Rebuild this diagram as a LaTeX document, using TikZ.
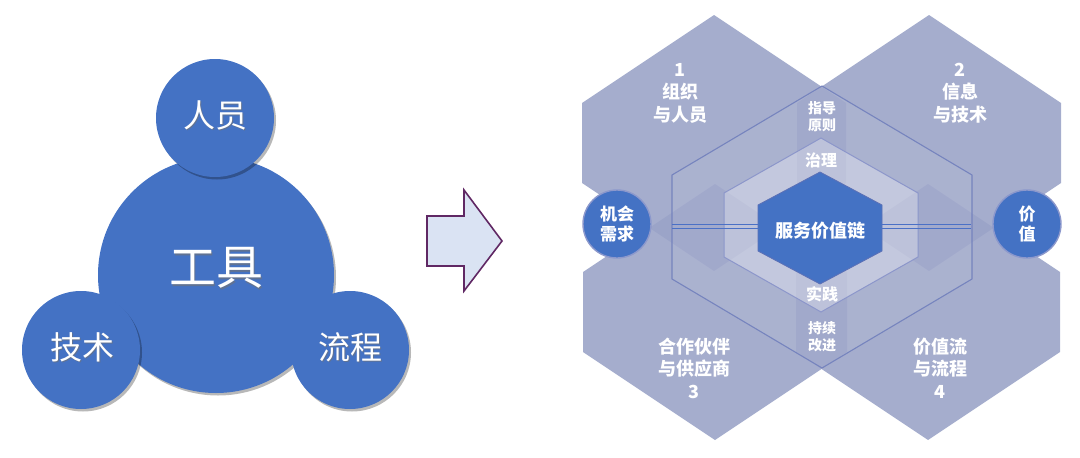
\documentclass[tikz,border=0pt]{standalone}
\usepackage{fontspec}
\setmainfont{Noto Sans CJK SC}
\usetikzlibrary{shadows}
\definecolor{mainblue}{RGB}{68,114,196}
\definecolor{hexfill}{RGB}{154,163,199}
\definecolor{midline}{RGB}{118,132,190}
\definecolor{innerline}{RGB}{140,150,202}
\definecolor{coreline}{RGB}{92,112,182}
\definecolor{ringline}{RGB}{140,152,204}
\definecolor{chainblue}{RGB}{74,112,198}
\definecolor{arrowfill}{RGB}{218,227,243}
\definecolor{arrowline}{RGB}{96,40,100}
\newcommand{\hexp}[5]{(#1,#2-#4-#5) -- (#1+#3,#2-#4) -- (#1+#3,#2+#4) -- (#1,#2+#4+#5) -- (#1-#3,#2+#4) -- (#1-#3,#2-#4) -- cycle}
\begin{document}
\begin{tikzpicture}[x=1pt,y=-1pt,
  leftcirc/.style={circle, fill=mainblue, inner sep=0pt,
    drop shadow={shadow xshift=2pt, shadow yshift=-2.5pt, fill=black, opacity=0.28}},
  lefttxt/.style={text=white, inner sep=0pt},
  leftshadow/.style={text=black!55, opacity=0.6, inner sep=0pt},
  bigarrow/.style={fill=arrowfill, draw=arrowline, line width=1.6pt, line join=miter},
  bighex/.style={fill=hexfill, fill opacity=0.89},
  midhex/.style={fill=white, fill opacity=0.06, draw=midline, line width=1.1pt},
  innerhex/.style={fill=white, fill opacity=0.3, draw=innerline, line width=1pt},
  corehex/.style={fill=mainblue, draw=coreline, line width=0.8pt},
  chain/.style={draw=chainblue, line width=0.9pt},
  ringcirc/.style={circle, fill=mainblue, draw=ringline, line width=1.4pt, inner sep=0pt, minimum size=68pt,
    text=white, align=center, font=\fontsize{17}{20.5}\selectfont\bfseries},
  hextxt/.style={text=white, align=center, inner sep=0pt, font=\fontsize{18}{22.5}\selectfont\bfseries},
  smalltxt/.style={text=white, align=center, inner sep=0pt, font=\fontsize{14}{17}\selectfont\bfseries},
  midtxt/.style={text=white, align=center, inner sep=0pt, font=\fontsize{16}{19}\selectfont\bfseries}
]
\useasboundingbox (0,0) rectangle (1080,458);

% ---------- left: circles ----------
\node[leftcirc, minimum size=236pt] (tools) at (216,275) {};
\node[leftcirc, minimum size=118pt] (people) at (215,118) {};
\node[leftcirc, minimum size=118pt] (tech) at (81,350) {};
\node[leftcirc, minimum size=118pt] (process) at (350,350) {};

\node[leftshadow, font=\fontsize{47}{47}\selectfont] (toolsS) at (217.3,269.3) {工具};
\node[lefttxt, font=\fontsize{47}{47}\selectfont] (toolsT) at (216,268) {工具};
\node[leftshadow, font=\fontsize{32}{32}\selectfont] (peopleS) at (216.1,116.1) {人员};
\node[lefttxt, font=\fontsize{32}{32}\selectfont] (peopleT) at (215,115) {人员};
\node[leftshadow, font=\fontsize{32}{32}\selectfont] (techS) at (83.1,348.1) {技术};
\node[lefttxt, font=\fontsize{32}{32}\selectfont] (techT) at (82,347) {技术};
\node[leftshadow, font=\fontsize{32}{32}\selectfont] (procS) at (351.1,348.1) {流程};
\node[lefttxt, font=\fontsize{32}{32}\selectfont] (procT) at (350,347) {流程};

% ---------- arrow ----------
\draw[bigarrow] (427,216) -- (464,216) -- (464,190) -- (502,241) -- (464,291) -- (464,266) -- (427,266) -- cycle;

% ---------- right: hexagons ----------
\fill[bighex] \hexp{714}{143}{132}{40}{88};
\fill[bighex] \hexp{929}{143}{132}{40}{88};
\fill[bighex] \hexp{715}{312}{132}{40}{88};
\fill[bighex] \hexp{928}{312}{132}{40}{88};

\filldraw[midhex] \hexp{822}{227}{150}{52}{89};
\filldraw[innerhex] \hexp{821}{225}{97}{32}{55};
\filldraw[corehex] \hexp{820}{228}{62}{23}{33};

% connector lines
\coordinate (midL) at (672,226);
\coordinate (coreL) at (758,226);
\coordinate (coreR) at (882,226);
\coordinate (midR) at (971,226);
\draw[chain] ([yshift=2pt]midL) -- ([yshift=2pt]coreL);
\draw[chain] ([yshift=-2pt]midL) -- ([yshift=-2pt]coreL);
\draw[chain] ([yshift=2pt]coreR) -- ([yshift=2pt]midR);
\draw[chain] ([yshift=-2pt]coreR) -- ([yshift=-2pt]midR);

% end circles
\node[ringcirc] (opp) at (617,224) {机会\\需求};
\node[ringcirc] (value) at (1027,224) {价\\值};

% texts
\node[hextxt] (t1) at (680,93) {1\\组织\\与人员};
\node[hextxt] (t2) at (960,93) {2\\信息\\与技术};
\node[hextxt] (t3) at (694,368) {合作伙伴\\与供应商\\3};
\node[hextxt] (t4) at (940,368) {价值流\\与流程\\4};
\node[smalltxt] (guide) at (822,117) {指导\\原则};
\node[smalltxt] (improve) at (822,337) {持续\\改进};
\node[midtxt] (gov) at (821,160) {治理};
\node[midtxt] (prac) at (822,294) {实践};
\node[hextxt] (svc) at (820,231) {服务价值链};
\end{tikzpicture}
\end{document}
